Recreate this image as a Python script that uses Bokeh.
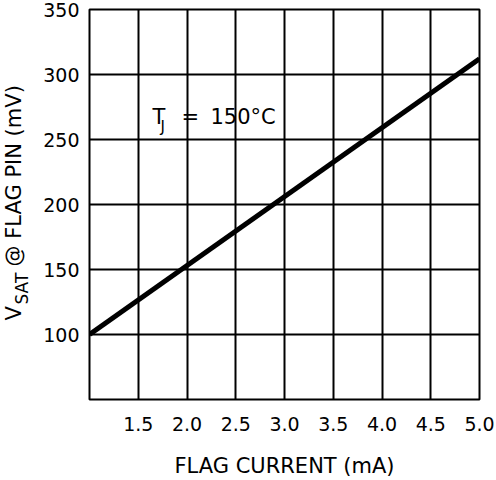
import math
from bokeh.plotting import figure
from bokeh.models import Range1d, FixedTicker, Label, Title
from bokeh.embed import file_html
from bokeh.resources import INLINE

# ---- data ----
flag_current_ma = [1.0, 5.0]
vsat_mv = [100, 312]
x_ticks = [1.5, 2.0, 2.5, 3.0, 3.5, 4.0, 4.5, 5.0]
x_tick_labels = ["1.5", "2.0", "2.5", "3.0", "3.5", "4.0", "4.5", "5.0"]
y_ticks = [100, 150, 200, 250, 300, 350]
y_tick_labels = ["100", "150", "200", "250", "300", "350"]
x_label = "FLAG CURRENT (mA)"
annot_temp = "150°C"

FONT = "DejaVu Sans"
W, H = 496, 480
BL, BR, BT, BB = 89, 17, 9, 81
X0, X1, Y0, Y1 = 1.0, 5.0, 50, 350

p = figure(width=W, height=H, output_backend="svg", toolbar_location=None,
           x_range=Range1d(X0, X1), y_range=Range1d(Y0, Y1),
           min_border_left=BL, min_border_right=BR, min_border_top=BT,
           min_border_bottom=BB)
p.background_fill_color = "white"
p.border_fill_color = "white"
p.outline_line_color = "black"
p.outline_line_width = 2

p.xaxis.ticker = FixedTicker(ticks=x_ticks)
p.yaxis.ticker = FixedTicker(ticks=y_ticks)
p.xaxis.major_label_overrides = {t: l for t, l in zip(x_ticks, x_tick_labels)}
p.yaxis.major_label_overrides = {t: l for t, l in zip(y_ticks, y_tick_labels)}
for ax in (p.xaxis, p.yaxis):
    ax.axis_line_color = None
    ax.major_tick_line_color = None
    ax.minor_tick_line_color = None
    ax.major_tick_out = 0
    ax.major_tick_in = 0
    ax.major_label_text_font = FONT
    ax.major_label_text_font_size = "19px"
    ax.major_label_text_color = "black"
p.xaxis.major_label_standoff = 17
p.yaxis.major_label_standoff = 10
p.xaxis.axis_label = x_label
p.xaxis.axis_label_text_font = FONT
p.xaxis.axis_label_text_font_size = "21px"
p.xaxis.axis_label_text_font_style = "normal"
p.xaxis.axis_label_text_color = "black"
p.xaxis.axis_label_standoff = 20

p.grid.grid_line_color = "black"
p.grid.grid_line_width = 2
p.grid.grid_line_alpha = 1.0

p.line(flag_current_ma, vsat_mv, line_width=5, line_color="black")

# ---- y axis label with subscript: titles stacked in the left panel ----
def ytitle(text, fs, offset, standoff):
    p.add_layout(Title(text=text, align="left", vertical_align="bottom",
                       offset=offset, standoff=standoff,
                       text_font=FONT, text_font_size=f"{fs}px",
                       text_font_style="normal", text_color="black"), "left")

ytitle(" ", 17, 0, -10.8)             # spacer next to the tick labels
ytitle("SAT", 17, 95, -4.8)           # subscript
ytitle("@ FLAG PIN (mV)", 21, 133, -26.4)   # zero-width panel
ytitle("V", 21, 79, -26.4)            # same column as the line above

# ---- annotation T_J = 150°C ----
tx, ty = 1.646, 267
def ann(text, ox, oy, fs):
    p.add_layout(Label(x=tx, y=ty, x_offset=ox, y_offset=oy, text=text,
                       text_align="left", text_baseline="alphabetic",
                       text_font=FONT, text_font_size=f"{fs}px", text_color="black"))

ann("T", 0, 0, 21)
ann("J", 8, -10, 15)
ann("=", 29, 0, 21)
ann(annot_temp, 58, 0, 21)

open("out.html", "w").write(file_html(p, INLINE))
